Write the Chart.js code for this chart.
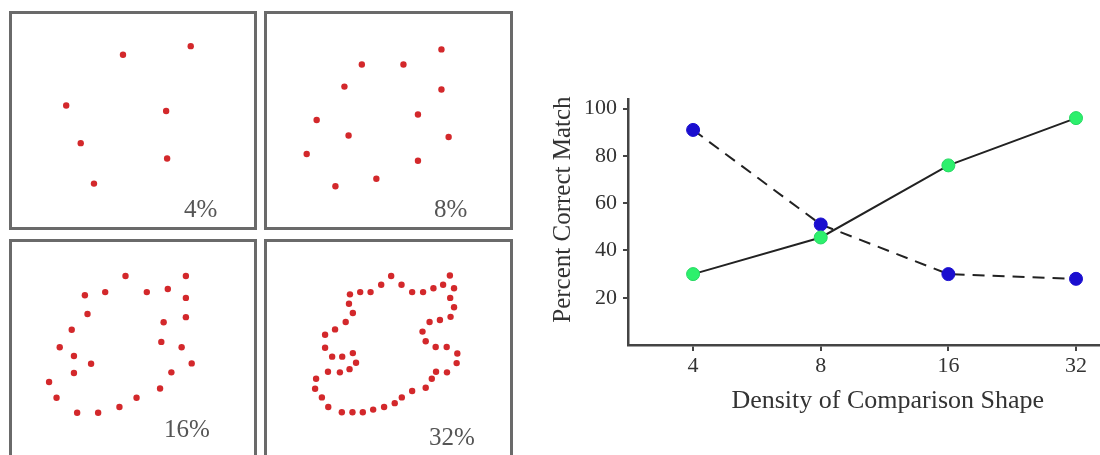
<!DOCTYPE html>
<html><head><meta charset="utf-8">
<script src="https://cdn.jsdelivr.net/npm/chart.js@4.4.0/dist/chart.umd.min.js"></script>
<style>
html,body{margin:0;padding:0;background:#fff;width:1100px;height:455px;overflow:hidden;position:relative;}
.box{position:absolute;border:3px solid #6a6a6a;box-sizing:border-box;}
canvas{position:absolute;}
.lbl{position:absolute;font-family:"Liberation Serif";font-size:25px;color:#555;line-height:1;white-space:nowrap;}
</style></head><body>
<canvas id="p1" width="246" height="217" style="left:9px;top:12px"></canvas>
<canvas id="p2" width="246" height="217" style="left:264px;top:12px"></canvas>
<canvas id="p3" width="246" height="217" style="left:9px;top:239px"></canvas>
<canvas id="p4" width="246" height="217" style="left:264px;top:239px"></canvas>
<div class="box" style="left:9px;top:11px;width:248px;height:219px"></div>
<div class="box" style="left:264px;top:11px;width:249px;height:219px"></div>
<div class="box" style="left:9px;top:239px;width:248px;height:230px"></div>
<div class="box" style="left:264px;top:239px;width:249px;height:230px"></div>
<div class="lbl" id="l1" style="left:184px;top:196px"></div>
<div class="lbl" id="l2" style="left:434px;top:196px"></div>
<div class="lbl" id="l3" style="left:164px;top:416px"></div>
<div class="lbl" id="l4" style="left:429px;top:424px"></div>
<canvas id="lc" width="625" height="375" style="left:530px;top:80px"></canvas>
<script>
// ---- data ----
const densities = ['4', '8', '16', '32'];
const panelLabels = ['4%', '8%', '16%', '32%'];
const scrambledMatch = [91, 51, 30, 28];   // blue points, dashed line
const sameMatch = [30, 45.5, 76, 96];      // green points, solid line
const yTickValues = [20, 40, 60, 80, 100];

// dot shapes (panel units: x right, y down)
const dots4 = [[113.7,40.3],[183.7,31.3],[55,93],[158.3,98.7],[70,132],[159.3,148],[83.7,174]];
const dots8 = [[179.3,34.7],[97,50.3],[140,50.3],[79,73.3],[179.3,76.3],[155,102.3],[50.3,108],[83.3,124],[186.7,125.7],[40,143.3],[155,150.3],[112,169],[69.7,176.7]];
const dots16 = [[116.3,34.3],[178.7,34.3],[74.3,54.3],[95.3,51],[138.3,51],[160,47.7],[178.7,57],[77,73.7],[178.7,77],[155.7,82.3],[60.7,90],[153.3,102.7],[48.3,108.3],[174.3,108.3],[63,117.3],[80.7,125.3],[184.7,125],[63,135],[163.7,134.3],[37.3,144.3],[152,151],[45,160.7],[127.7,160.7],[110,170.3],[66.3,176.3],[88,176.3]];
const dots32 = [[127.3,34.3],[188,33.7],[117,43.3],[138,43.3],[181,43.3],[84.7,53.3],[95.3,51],[106,51],[149,51],[160.3,51],[171,47],[192.3,47],[83.7,63],[188.3,57],[87.7,72.7],[192.3,66.7],[80.3,82],[167,82],[177.7,80],[188.7,76.7],[69.3,89.7],[159.7,92],[59,95.3],[163,102],[59,108.7],[173.3,108],[184.7,108],[87.7,114.3],[66.3,118],[76.7,118],[195.7,114.7],[91,124.3],[195,124.7],[62,133.7],[74.3,134.3],[84.3,131],[173.7,133.7],[185,134.3],[49.7,141],[169.3,141],[48.7,151.3],[163,150.3],[149,153.7],[55.7,160.3],[138.3,160.3],[131,166.3],[62.3,170.3],[120,170.3],[108.7,173],[76.3,175.7],[87.3,175.7],[98,175.7]];

const serif = 'Liberation Serif';

function panel(id, pts) {
  new Chart(document.getElementById(id), {
    type: 'scatter',
    data: { datasets: [{ data: pts.map(p => ({ x: p[0], y: p[1] })),
      pointRadius: 3.2, pointBackgroundColor: '#d3282b', pointBorderWidth: 0 }] },
    options: {
      responsive: false, animation: false, devicePixelRatio: 1,
      layout: { padding: 0 },
      plugins: { legend: { display: false }, tooltip: { enabled: false } },
      scales: {
        x: { type: 'linear', display: false, min: 0, max: 246 },
        y: { type: 'linear', display: false, min: 0, max: 217, reverse: true }
      }
    }
  });
}
panel('p1', dots4); panel('p2', dots8); panel('p3', dots16); panel('p4', dots32);
['l1','l2','l3','l4'].forEach((id, i) => { document.getElementById(id).textContent = panelLabels[i]; });

new Chart(document.getElementById('lc'), {
  type: 'line',
  data: {
    datasets: [
      { data: scrambledMatch.map((v, i) => ({ x: i, y: v })),
        borderColor: '#222', borderWidth: 2, borderDash: [12, 8], tension: 0,
        pointRadius: 6.5, pointBackgroundColor: '#1a0ecf', pointBorderColor: '#1a0ecf', pointBorderWidth: 1, order: 2 },
      { data: sameMatch.map((v, i) => ({ x: i, y: v })),
        borderColor: '#222', borderWidth: 2, tension: 0,
        pointRadius: 6.5, pointBackgroundColor: '#2cf06c', pointBorderColor: '#26d862', pointBorderWidth: 1, order: 1 }
    ]
  },
  options: {
    responsive: false, animation: false, devicePixelRatio: 1,
    layout: { padding: { top: 13, left: 0, right: 0, bottom: 0 } },
    plugins: { legend: { display: false }, tooltip: { enabled: false } },
    scales: {
      x: {
        type: 'linear', min: -0.51, max: 3.56,
        afterBuildTicks: s => { s.ticks = densities.map((d, i) => ({ value: i })); },
        ticks: { callback: v => densities[v], font: { family: serif, size: 22 }, color: '#333', padding: 2, maxRotation: 0, autoSkip: false },
        grid: { display: true, drawOnChartArea: false, drawTicks: true, tickLength: 6, color: '#444', lineWidth: 2 },
        border: { display: true, color: '#444', width: 2.5 },
        title: { display: true, text: 'Density of Comparison Shape', font: { family: serif, size: 26 }, color: '#333', padding: { top: 0, bottom: 38 } },
        afterFit: s => { s.height = 110; }
      },
      y: {
        type: 'linear', min: 0, max: 104,
        afterBuildTicks: s => { s.ticks = yTickValues.map(v => ({ value: v })); },
        ticks: { font: { family: serif, size: 22 }, color: '#333', padding: 6 },
        grid: { display: true, drawOnChartArea: false, drawTicks: true, tickLength: 5, color: '#444', lineWidth: 2 },
        border: { display: true, color: '#444', width: 2.5 },
        title: { display: true, text: '    Percent Correct Match', font: { family: serif, size: 25 }, color: '#333', padding: { top: 18, bottom: 0 } },
        afterFit: s => { s.width = 98; }
      }
    }
  }
});
</script>
</body></html>
